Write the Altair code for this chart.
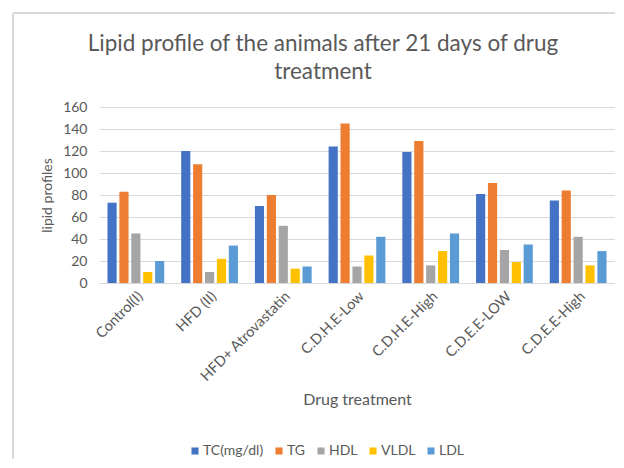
import altair as alt
import pandas as pd

groups = ["Control(I)", "HFD (II)", "HFD+ Atrovastatin", "C.D.H.E-Low",
          "C.D.H.E-High", "C.D.E.E-LOW", "C.D.E.E-High"]
series = ["TC(mg/dl)", "TG", "HDL", "VLDL", "LDL"]
tc = [73, 120, 70, 124, 119, 81, 75]
tg = [83, 108, 80, 145, 129, 91, 84]
hdl = [45, 10, 52, 15, 16, 30, 42]
vldl = [10, 22, 13, 25, 29, 19, 16]
ldl = [20, 34, 15, 42, 45, 35, 29]
colors = ["#4472C4", "#ED7D31", "#A5A5A5", "#FFC000", "#5B9BD5"]

rows = []
for name, vals in zip(series, [tc, tg, hdl, vldl, ldl]):
    for g, v in zip(groups, vals):
        rows.append({"group": g, "series": name, "value": v})
df = pd.DataFrame(rows)

FONT = "Lato"
GRAY = "#595959"

bars = alt.Chart(df).mark_bar().encode(
    x=alt.X("group:N", sort=groups,
            scale=alt.Scale(paddingInner=0.23, paddingOuter=0.115),
            axis=alt.Axis(title="Drug treatment", labelAngle=-45, labelFontSize=14.5,
                          labelColor=GRAY, labelFont=FONT, titleFont=FONT,
                          titleFontSize=16, titleFontWeight="normal", titleColor=GRAY,
                          ticks=False, domainColor="#d9d9d9", labelPadding=6,
                          titlePadding=8)),
    xOffset=alt.XOffset("series:N", sort=series, scale=alt.Scale(paddingInner=0.23)),
    y=alt.Y("value:Q", scale=alt.Scale(domain=[0, 160]),
            axis=alt.Axis(title="lipid profiles", values=list(range(0, 161, 20)),
                          labelFontSize=14, labelColor=GRAY, labelFont=FONT,
                          titleFont=FONT, titleFontSize=14, titleFontWeight="normal",
                          titleColor=GRAY, ticks=False, domain=False,
                          gridColor="#d9d9d9", labelPadding=12, titlePadding=8)),
    color=alt.Color("series:N", sort=series,
                    scale=alt.Scale(domain=series, range=colors),
                    legend=alt.Legend(title=None, orient="none", direction="horizontal",
                                      columns=5, legendX=89, legendY=337,
                                      symbolType="square", symbolSize=50,
                                      symbolStrokeWidth=0, labelFont=FONT,
                                      labelFontSize=14, labelColor=GRAY,
                                      labelOffset=1, columnPadding=8)),
)

frame_left = alt.Chart(df).mark_rule(color="#d9d9d9", strokeWidth=1).encode(
    x=alt.value(-86), y=alt.value(-94), y2=alt.value(360))
frame_top = alt.Chart(df).mark_rule(color="#d9d9d9", strokeWidth=1).encode(
    x=alt.value(-86), x2=alt.value(520), y=alt.value(-94))

chart = alt.layer(frame_left, frame_top, bars).properties(
    width=516, height=176,
    autosize=alt.AutoSizeParams(type="none"),
    padding={"left": 91, "top": 99, "right": 0, "bottom": 176},
    title=alt.TitleParams(
        text=["Lipid profile of the animals after 21 days of drug", "treatment"],
        font=FONT, fontSize=22.5, fontWeight="normal", color=GRAY,
        anchor="middle", frame="group", dx=-34, offset=-71, lineHeight=28),
).configure_view(stroke=None)

chart.save("out.html", embed_options={"renderer": "svg", "actions": False})
